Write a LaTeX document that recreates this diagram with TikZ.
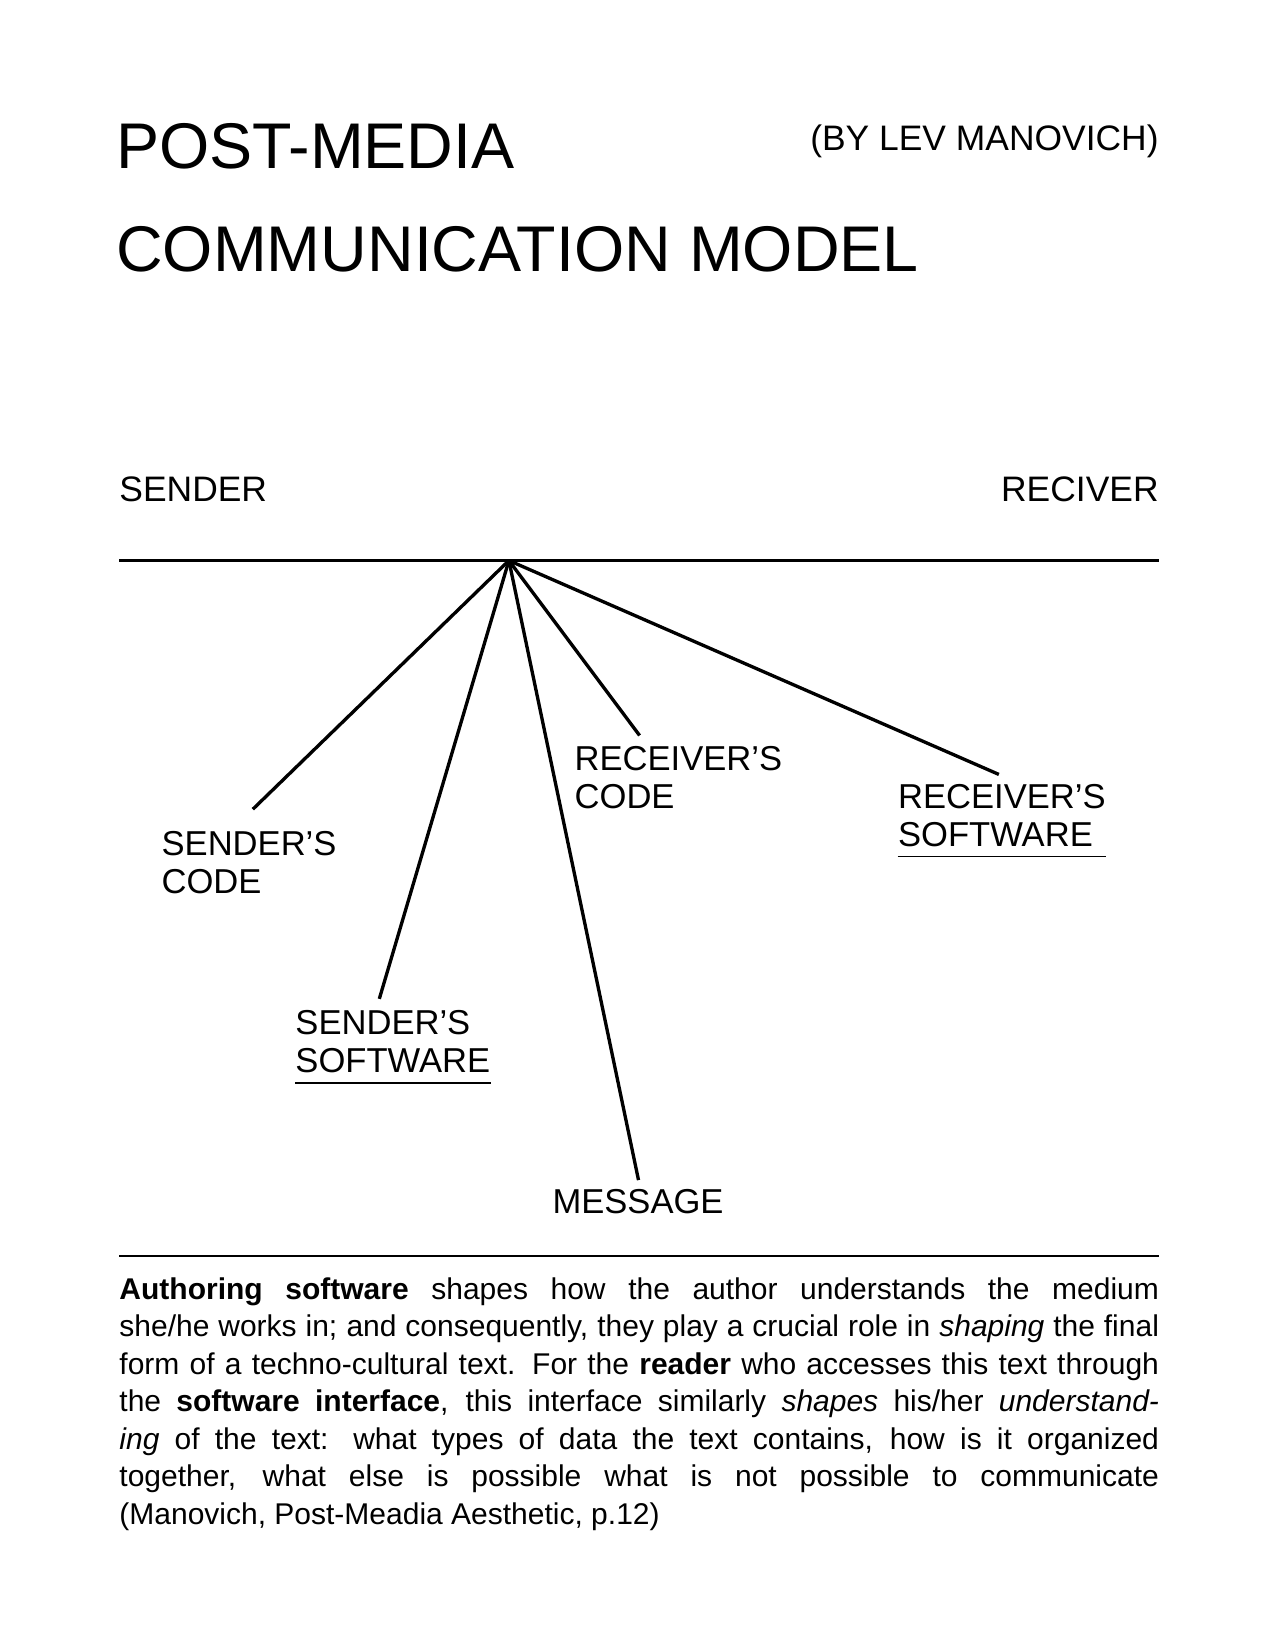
\documentclass[tikz,border=0pt]{standalone}
\usepackage{fontspec}
\setmainfont{Liberation Sans}
\usetikzlibrary{positioning}
\begin{document}
\begin{tikzpicture}[x=0.5058pt, y=-0.5058pt,
  lbl/.style={anchor=base west, align=left, inner sep=0pt, font=\fontsize{16.6}{18.2}\selectfont},
  head/.style={inner sep=0pt, font=\fontsize{17}{20}\selectfont},
  spoke/.style={line width=1.6pt}]

\useasboundingbox (0,0) rectangle (1210,1566);

% title
\node[anchor=base west, inner sep=0pt, font=\fontsize{31}{36}\selectfont] (title1) at (110,160) {POST-MEDIA};
\node[anchor=base west, inner sep=0pt, font=\fontsize{31}{36}\selectfont] (title2) at (110,258) {COMMUNICATION MODEL};
\node[head, anchor=base east] (author) at (1100,143) {(BY LEV MANOVICH)};

% ends
\node[head, anchor=base west] (sender) at (113,476) {SENDER};
\node[head, anchor=base east] (reciver) at (1100,476) {RECIVER};

\coordinate (left) at (113,532);
\coordinate (right) at (1100,532);
\coordinate (hub) at (483,532);
\draw[spoke] (left) -- (right);

% labels
\node[lbl] (scode) at (153,848) {SENDER'S\\CODE};
\node[lbl] (ssoft) at (280,1018) {SENDER'S\\SOFTWARE};
\node[lbl] (msg) at (524,1152) {MESSAGE};
\node[lbl] (rcode) at (545,767) {RECEIVER'S\\CODE};
\node[lbl] (rsoft) at (852,803) {RECEIVER'S\\SOFTWARE};

\coordinate (scodeend) at (240,768);
\coordinate (ssoftend) at (360,948);
\coordinate (msgend) at (606,1120);
\coordinate (rcodeend) at (607,698);
\coordinate (rsoftend) at (948,735);

\foreach \e in {scodeend, ssoftend, msgend, rcodeend, rsoftend}
  \draw[spoke] (hub) -- (\e);

% underlines
\draw[line width=0.9pt] ([yshift=-5pt]ssoft.base west) -- ([yshift=-5pt]ssoft.base east);
\draw[line width=0.9pt] ([yshift=-5pt]rsoft.base west) -- ([yshift=-5pt]rsoft.base east);

% text
\coordinate (ruleL) at (113,1192);
\coordinate (ruleR) at (1100,1192);
\draw[line width=0.9pt] (ruleL) -- (ruleR);

\node[anchor=north west, inner sep=0pt, text width=499pt, align=justify,
  font=\fontsize{14.4}{18}\selectfont] (quote) at (113,1212) {%
\textbf{Authoring software} shapes how the author understands the medium\linebreak
she/he works in; and consequently, they play a crucial role in \textit{shaping} the final\linebreak
form of a techno-cultural text. For the \textbf{reader} who accesses this text through\linebreak
the \textbf{software interface}, this interface similarly \textit{shapes} his/her \textit{understand-}\linebreak
\textit{ing} of the text: what types of data the text contains, how is it organized\linebreak
together, what else is possible what is not possible to communicate\linebreak
(Manovich, Post-Meadia Aesthetic, p.12)\par};

\end{tikzpicture}
\end{document}
